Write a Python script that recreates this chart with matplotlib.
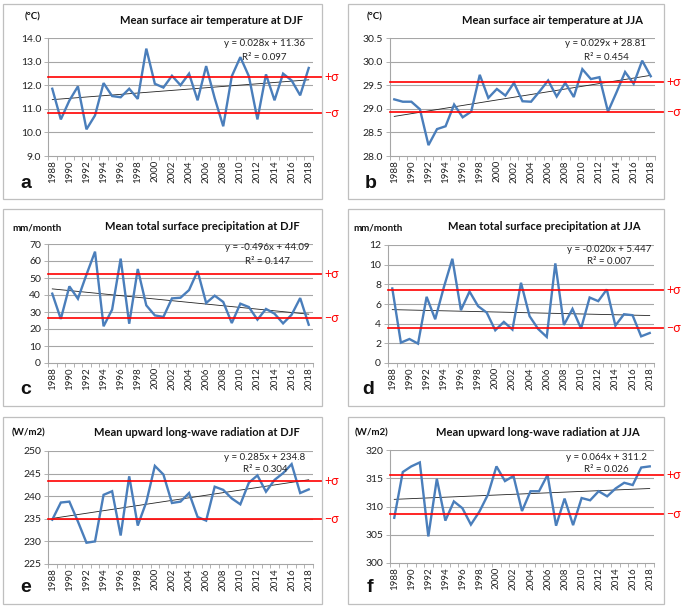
import matplotlib
matplotlib.use("Agg")
import matplotlib.pyplot as plt
import numpy as np
from matplotlib.patches import Rectangle

plt.rcParams['font.family'] = ['Lato', 'DejaVu Sans']

# ---------------- data ----------------
years = list(range(1988, 2019))
year_labels = [str(y) for y in years[::2]]

temp_djf = [11.85, 10.55, 11.35, 11.95, 10.13, 10.72, 12.09, 11.54, 11.49, 11.85,
            11.42, 13.55, 12.06, 11.90, 12.40, 12.00, 12.49, 11.36, 12.81, 11.45,
            10.26, 12.38, 13.19, 12.38, 10.55, 12.46, 11.36, 12.49, 12.20, 11.57, 12.73]
temp_jja = [29.20, 29.15, 29.15, 28.99, 28.23, 28.57, 28.63, 29.09, 28.82, 28.94,
            29.72, 29.23, 29.42, 29.28, 29.55, 29.16, 29.15, 29.37, 29.60, 29.26,
            29.55, 29.25, 29.84, 29.63, 29.67, 28.94, 29.35, 29.78, 29.53, 30.02, 29.69]
prec_djf = [40.8, 25.9, 45.1, 37.8, 52.0, 65.5, 21.6, 31.4, 61.4, 23.1,
            55.3, 33.9, 28.0, 27.1, 38.0, 38.4, 42.9, 54.1, 35.3, 39.6,
            35.9, 23.5, 34.9, 32.9, 25.5, 31.8, 29.0, 23.3, 28.4, 38.2, 22.5]
prec_jja = [7.58, 2.07, 2.44, 1.97, 6.73, 4.45, 7.68, 10.60, 5.37, 7.27,
            5.78, 5.13, 3.33, 4.18, 3.40, 8.16, 4.76, 3.46, 2.65, 10.13,
            3.87, 5.50, 3.50, 6.66, 6.29, 7.48, 3.80, 4.96, 4.86, 2.71, 3.05]
olr_djf = [234.8, 238.6, 238.8, 234.4, 229.7, 230.0, 240.3, 241.1, 231.3, 244.4,
           233.5, 238.7, 246.7, 244.8, 238.5, 238.8, 240.7, 235.4, 234.6, 242.1,
           241.4, 239.5, 238.2, 243.0, 244.6, 241.0, 243.6, 245.1, 247.1, 240.7, 241.5]
olr_jja = [308.0, 316.1, 317.1, 317.8, 304.7, 314.9, 307.5, 310.9, 309.7, 306.8,
           309.1, 312.1, 317.1, 314.5, 315.4, 309.2, 312.7, 312.7, 315.6, 306.6,
           311.4, 306.7, 311.5, 311.1, 312.7, 311.8, 313.2, 314.2, 313.8, 316.9, 317.1]

titles = ["Mean surface air temperature at DJF", "Mean surface air temperature at JJA",
          "Mean total surface precipitation at DJF", "Mean total surface precipitation at JJA",
          "Mean upward long-wave radiation at DJF", "Mean upward long-wave radiation at JJA"]
units = ["(\u00b0C)", "(\u00b0C)", "mm/month", "mm/month", "(W/m2)", "(W/m2)"]
letters = ["a", "b", "c", "d", "e", "f"]
slopes = [0.028, 0.029, -0.496, -0.020, 0.285, 0.064]
intercepts = [11.36, 28.81, 44.09, 5.447, 234.8, 311.2]
eq_texts = ["y = 0.028x + 11.36", "y = 0.029x + 28.81", "y = -0.496x + 44.09",
            "y = -0.020x + 5.447", "y = 0.285x + 234.8", "y = 0.064x + 311.2"]
r2_texts = ["R\u00b2 = 0.097", "R\u00b2 = 0.454", "R\u00b2 = 0.147",
            "R\u00b2 = 0.007", "R\u00b2 = 0.304", "R\u00b2 = 0.026"]
sigma_hi = [12.35, 29.56, 52.2, 7.41, 243.3, 315.65]
sigma_lo = [10.82, 28.93, 26.5, 3.60, 235.0, 308.76]
y_ranges = [(9.0, 14.0, 1.0), (28.0, 30.5, 0.5), (0, 70, 10),
            (0, 12, 2), (225, 250, 5), (300, 320, 5)]
y_fmts = ["%.1f", "%.1f", "%d", "%d", "%d", "%d"]
series = [temp_djf, temp_jja, prec_djf, prec_jja, olr_djf, olr_jja]

# ---------------- layout (pixels) ----------------
W, H = 685, 608
boxes = [(3, 4, 322, 199), (348, 4, 664, 199), (3, 209, 322, 406),
         (348, 209, 664, 406), (3, 417, 322, 604), (348, 417, 664, 604)]
plots = [(48, 38, 313, 156), (390, 38, 655, 156), (48, 244, 313, 363),
         (388, 245, 654, 363), (48, 451, 313, 564), (390, 450, 654, 563)]
title_xy = [(211, 21), (552, 21), (202, 226), (544, 226), (197, 433), (538, 433)]
unit_xy = [(25, 17), (367, 17), (12, 228), (353, 228), (12, 433), (355, 433)]
eq_xy = [(264, 44, 57), (606, 44, 57), (267, 248, 261), (609, 249, 262),
         (265, 457, 469), (606, 458, 470)]
letter_xy = [(20, 183), (365, 183), (20, 390), (362, 389), (20, 587), (367, 587)]

fig = plt.figure(figsize=(W / 100, H / 100), dpi=100)


def fx(p):
    return p / W


def fy(p):
    return 1 - p / H


grid_c = '#a6a6a6'
blue = '#4a7ebb'
red = '#ff0000'
x = np.arange(1, len(years) + 1)

for i in range(6):
    bl, bt, br, bb = boxes[i]
    fig.patches.append(Rectangle((fx(bl), fy(bb)), fx(br) - fx(bl), (bb - bt) / H,
                                 transform=fig.transFigure, fill=False,
                                 edgecolor='#bfbfbf', lw=0.9))
    l, t, r, b = plots[i]
    ax = fig.add_axes([fx(l), fy(b), fx(r) - fx(l), (b - t) / H])
    ymin, ymax, ystep = y_ranges[i]
    ax.set_xlim(0.5, len(years) + 0.5)
    ax.set_ylim(ymin, ymax)
    yt = np.arange(ymin, ymax + ystep / 2, ystep)
    ax.set_yticks(yt)
    ax.set_yticklabels([y_fmts[i] % v for v in yt])
    ax.set_xticks(x[::2])
    ax.set_xticklabels(year_labels, rotation=90)
    ax.set_xticks(np.arange(0.5, len(years) + 1, 1.0), minor=True)
    ax.tick_params(axis='x', which='major', length=0, pad=3, labelsize=7, colors='#222222')
    ax.tick_params(axis='x', which='minor', length=3, width=0.6, color=grid_c)
    ax.tick_params(axis='y', length=3, width=0.6, color=grid_c, labelsize=7.5,
                   pad=2, labelcolor='#222222')
    for s in ['top', 'right']:
        ax.spines[s].set_visible(False)
    for s in ['left', 'bottom']:
        ax.spines[s].set_color(grid_c)
        ax.spines[s].set_linewidth(0.8)
    for v in yt[1:]:
        ax.axhline(v, color=grid_c, lw=0.8, zorder=1)
    trend = slopes[i] * x + intercepts[i]
    ax.plot(x, trend, color='#222222', lw=0.6, zorder=3)
    ax.plot(x, series[i], color=blue, lw=1.7, zorder=4, solid_joinstyle='miter')
    ext = (br - l) / (r - l)
    for v in (sigma_hi[i], sigma_lo[i]):
        ax.axhline(v, xmin=0, xmax=ext, color=red, lw=1.2, clip_on=False, zorder=5)
    ax.text(ext + 0.008, sigma_hi[i], "+\u03c3", color=red, fontsize=9,
            transform=ax.get_yaxis_transform(), va='center', ha='left', clip_on=False)
    ax.text(ext + 0.008, sigma_lo[i], "\u2212\u03c3", color=red, fontsize=9,
            transform=ax.get_yaxis_transform(), va='center', ha='left', clip_on=False)

    tx, ty = title_xy[i]
    fig.text(fx(tx), fy(ty), titles[i], ha='center', va='center', fontsize=8,
             fontweight='bold', color='#111111')
    ux, uy = unit_xy[i]
    fig.text(fx(ux), fy(uy), units[i], ha='left', va='center', fontsize=7,
             fontweight='bold', color='#111111')
    ex, ey1, ey2 = eq_xy[i]
    fig.text(fx(ex), fy(ey1), eq_texts[i], ha='center', va='center', fontsize=7,
             color='#222222')
    fig.text(fx(ex), fy(ey2), r2_texts[i], ha='center', va='center', fontsize=7,
             color='#222222')
    lx, ly = letter_xy[i]
    fig.text(fx(lx), fy(ly), letters[i], ha='left', va='center', fontsize=14,
             fontweight='bold', color='#111111', family=['Liberation Sans', 'DejaVu Sans'])

fig.savefig("out.png", dpi=100)
